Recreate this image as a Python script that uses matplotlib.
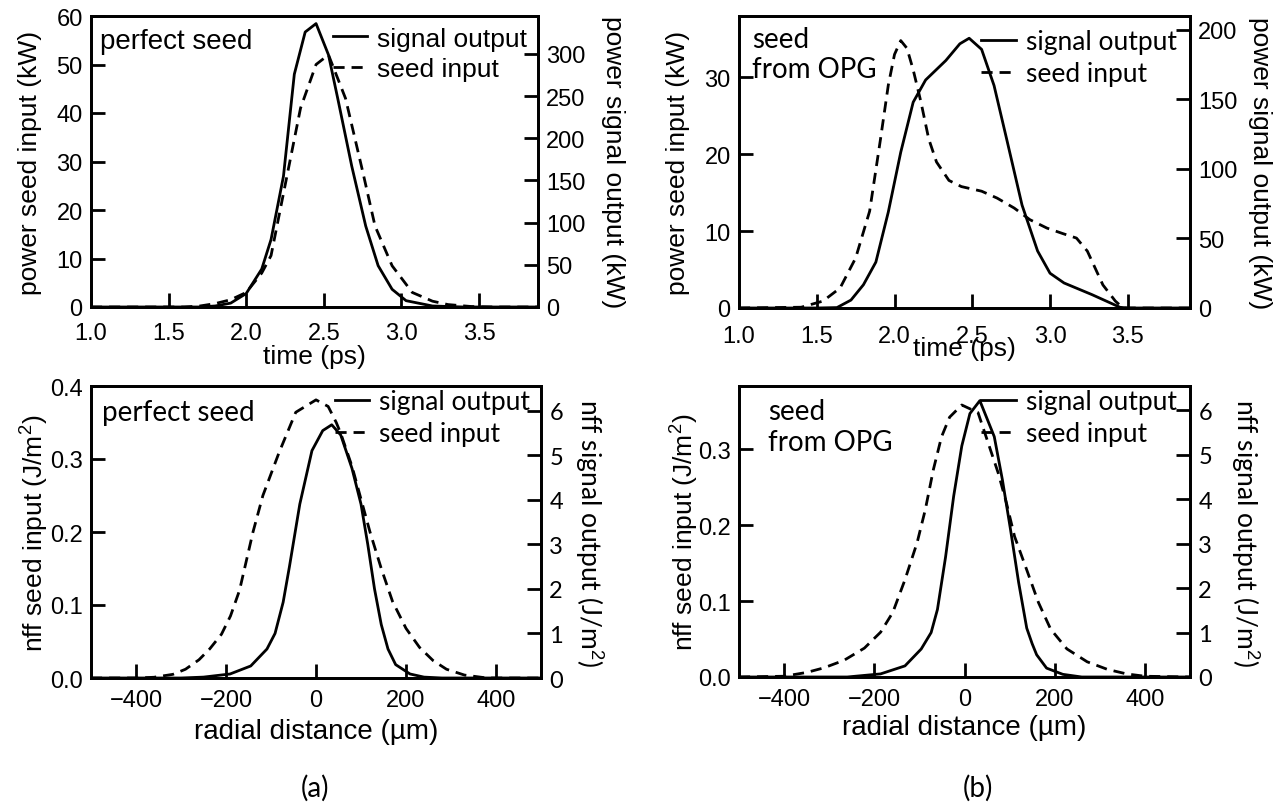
import numpy as np
import matplotlib
matplotlib.use('Agg')
from matplotlib import pyplot as plt
from matplotlib.lines import Line2D

plt.rcParams['font.family'] = ['Liberation Sans', 'DejaVu Sans']
plt.rcParams['mathtext.fontset'] = 'custom'
plt.rcParams['mathtext.rm'] = 'Liberation Sans'

# ---- panel (a) top: perfect seed, time domain ----
t_sig_a = [1.0, 1.7, 1.8, 1.9, 2.0, 2.1, 2.16, 2.24, 2.31, 2.38, 2.45, 2.53, 2.59, 2.68, 2.77, 2.85, 2.94, 3.03, 3.2, 3.4, 3.9]
p_sig_a = [0, 0, 1.2, 4.6, 16, 45, 80, 155, 276, 326, 336, 299, 247, 167, 96, 49, 21, 7.5, 1.2, 0, 0]   # kW, right axis
t_seed_a = [1.0, 1.6, 1.7, 1.8, 1.9, 2.0, 2.1, 2.16, 2.25, 2.35, 2.45, 2.53, 2.64, 2.75, 2.83, 2.94, 3.07, 3.2, 3.3, 3.45, 3.6, 3.9]
p_seed_a = [0, 0, 0.2, 0.7, 1.5, 3, 7, 10.6, 25, 41, 50, 52, 43, 28, 16.7, 8.5, 3, 1.2, 0.5, 0.1, 0, 0]  # kW, left axis

# ---- panel (b) top: seed from OPG, time domain ----
t_sig_b = [1.0, 1.5, 1.63, 1.72, 1.80, 1.88, 1.96, 2.04, 2.12, 2.2, 2.33, 2.42, 2.48, 2.56, 2.64, 2.72, 2.82, 2.92, 3.0, 3.09, 3.27, 3.45, 3.5, 3.9]
p_sig_b = [0, 0, 0.3, 5.7, 16.7, 33, 69, 112, 148, 164, 178, 190, 194, 186, 160, 122, 74, 41, 25, 18, 9.6, 0.5, 0, 0]
t_seed_b = [1.0, 1.4, 1.54, 1.65, 1.75, 1.84, 1.91, 1.96, 2.0, 2.04, 2.08, 2.12, 2.17, 2.22, 2.27, 2.35, 2.43, 2.56, 2.66, 2.77,
            2.87, 2.98, 3.08, 3.17, 3.24, 3.34, 3.42, 3.47, 3.9]
p_seed_b = [0, 0.1, 0.9, 2.6, 6.5, 12.6, 22, 29, 33, 34.8, 33.8, 31, 26.8, 22, 19, 16.6, 15.8, 15.2, 14.3, 13,
            11.5, 10.4, 9.7, 9.1, 7.4, 3, 0.9, 0, 0]

# ---- panel (a) bottom: perfect seed, radial ----
r_sig_a = [-500, -300, -250, -191, -145, -109, -91, -73, -59, -36, -9, 15, 35, 55, 80, 100, 115, 130, 145, 160, 177, 209, 240, 280, 500]
f_sig_a = [0, 0, 0.02, 0.09, 0.27, 0.65, 1.0, 1.7, 2.5, 3.9, 5.1, 5.55, 5.68, 5.45, 4.7, 3.9, 3.0, 2.0, 1.2, 0.65, 0.3, 0.09, 0.02, 0, 0]
r_seed_a = [-500, -400, -360, -318, -290, -260, -236, -210, -190, -170, -155, -140, -118, -82, -45, 0, 27, 45, 55, 80, 100, 120, 145, 170,
            200, 230, 260, 290, 330, 380, 500]
f_seed_a = [0, 0, 0.001, 0.005, 0.012, 0.025, 0.04, 0.06, 0.085, 0.12, 0.16, 0.2, 0.25, 0.309, 0.364, 0.381, 0.372, 0.35, 0.335, 0.29,
            0.245, 0.20, 0.15, 0.105, 0.068, 0.042, 0.024, 0.012, 0.004, 0, 0]

# ---- panel (b) bottom: seed from OPG, radial ----
r_sig_b = [-500, -260, -186, -132, -96, -74, -60, -42, -24, -6, 12, 34, 66, 84, 102, 120, 138, 150, 160, 182, 218, 260, 500]
f_sig_b = [0, 0, 0.07, 0.25, 0.63, 1.0, 1.52, 2.7, 4.07, 5.2, 5.93, 6.22, 5.41, 4.44, 3.32, 2.13, 1.1, 0.75, 0.5, 0.2, 0.06, 0, 0]
r_seed_b = [-500, -400, -350, -312, -267, -222, -186, -159, -132, -105, -87, -69, -51, -33, -6, 30, 75, 93, 111, 138, 164, 191, 227, 272, 317, 360, 400, 500]
f_seed_b = [0, 0.001, 0.006, 0.012, 0.022, 0.038, 0.059, 0.085, 0.128, 0.177, 0.22, 0.273, 0.316, 0.342, 0.358, 0.348, 0.268, 0.229, 0.185, 0.141, 0.098,
            0.063, 0.037, 0.02, 0.01, 0.004, 0.001, 0]

W, H = 1276, 803
fig = plt.figure(figsize=(W / 100, H / 100), dpi=100)


def px_axes(l, r, t, b):
    return fig.add_axes([l / W, 1 - b / H, (r - l) / W, (b - t) / H])


def style(ax, ax2, xpad):
    for a in (ax, ax2):
        for s in a.spines.values():
            s.set_linewidth(2)
    ax.tick_params(axis='both', direction='in', length=10, width=2, labelsize=17, pad=6)
    ax.tick_params(axis='x', pad=xpad)
    ax2.tick_params(axis='y', direction='in', length=10, width=2, labelsize=17, pad=6)


SOLID = dict(color='black', lw=2.0)
DASH = dict(color='black', lw=2.0, ls=(0, (4, 2.5)))


def add_legend(ax, anchor, fam, size):
    h = [Line2D([], [], **SOLID), Line2D([], [], **DASH)]
    ax.legend(h, ['signal output', 'seed input'], loc='upper right', bbox_to_anchor=anchor,
              frameon=False, handlelength=1.3, handletextpad=0.4, labelspacing=0.25,
              borderaxespad=0, prop={'family': fam, 'size': size})


def ylabels(ax, ax2, left, right, lx, rx, rfam='Liberation Sans'):
    ax.set_ylabel(left, fontsize=19, va='center', ha='center')
    ax.yaxis.set_label_coords(lx, 0.5)
    ax2.set_ylabel(right, fontsize=19, rotation=270, va='center', ha='center', family=rfam)
    ax2.yaxis.set_label_coords(rx, 0.5)


# top left
ax = px_axes(91, 538, 17, 308)
ax2 = ax.twinx()
ax.plot(t_seed_a, p_seed_a, **DASH)
ax2.plot(t_sig_a, p_sig_a, **SOLID)
ax.set_xlim(1.0, 3.88)
ax.set_ylim(0, 60)
ax2.set_ylim(0, 345)
ax.set_xticks([1.0, 1.5, 2.0, 2.5, 3.0, 3.5])
ax.set_xticklabels(['1.0', '1.5', '2.0', '2.5', '3.0', '3.5'])
ax.set_yticks([0, 10, 20, 30, 40, 50, 60])
ax2.set_yticks([0, 50, 100, 150, 200, 250, 300])
style(ax, ax2, 11)
ax.set_xlabel('time (ps)', fontsize=19, labelpad=0)
ylabels(ax, ax2, 'power seed input (kW)', 'power signal output (kW)', -0.136, 1.168)
ax.text(0.02, 0.914, 'perfect seed', transform=ax.transAxes, fontsize=20, va='center', ha='left')
add_legend(ax, (1.0, 1.0), 'Liberation Sans', 19)

# top right
ax = px_axes(739, 1190, 17, 309)
ax2 = ax.twinx()
ax.plot(t_seed_b, p_seed_b, **DASH)
ax2.plot(t_sig_b, p_sig_b, **SOLID)
ax.set_xlim(1.0, 3.9)
ax.set_ylim(0, 38)
ax2.set_ylim(0, 210)
ax.set_xticks([1.0, 1.5, 2.0, 2.5, 3.0, 3.5])
ax.set_xticklabels(['1.0', '1.5', '2.0', '2.5', '3.0', '3.5'])
ax.set_yticks([0, 10, 20, 30])
ax2.set_yticks([0, 50, 100, 150, 200])
style(ax, ax2, 12)
ax.set_xlabel('time (ps)', fontsize=19, labelpad=-8)
ylabels(ax, ax2, 'power seed input (kW)', 'power signal output (kW)', -0.135, 1.155)
ax.text(0.029, 0.87, 'seed\nfrom OPG', transform=ax.transAxes, fontsize=20, va='center', ha='left',
        family='Lato', linespacing=1.2)
add_legend(ax, (0.995, 0.99), 'Lato', 19)

# bottom left
ax = px_axes(91, 541, 387, 679)
ax2 = ax.twinx()
ax.plot(r_seed_a, f_seed_a, **DASH)
ax2.plot(r_sig_a, f_sig_a, **SOLID)
ax.set_xlim(-500, 500)
ax.set_ylim(0, 0.4)
ax2.set_ylim(0, 6.55)
ax.set_xticks([-400, -200, 0, 200, 400])
ax.set_yticks([0.0, 0.1, 0.2, 0.3, 0.4])
ax.set_yticklabels(['0.0', '0.1', '0.2', '0.3', '0.4'])
ax2.set_yticks([0, 1, 2, 3, 4, 5, 6])
style(ax, ax2, 8)
for lab in ax2.get_yticklabels():
    lab.set_family('Lato')
ax.set_xlabel('radial distance (µm)', fontsize=20, labelpad=5)
ylabels(ax, ax2, 'nff seed input (J/m$^2$)', 'nff signal output (J/m$^2$)', -0.127, 1.107, 'Lato')
ax.text(0.024, 0.911, 'perfect seed', transform=ax.transAxes, fontsize=20, va='center', ha='left', family='Lato')
add_legend(ax, (1.0, 1.025), 'Lato', 19)

# bottom right
ax = px_axes(739, 1190, 387, 678)
ax2 = ax.twinx()
ax.plot(r_seed_b, f_seed_b, **DASH)
ax2.plot(r_sig_b, f_sig_b, **SOLID)
ax.set_xlim(-500, 500)
ax.set_ylim(0, 0.383)
ax.set_xticks([-400, -200, 0, 200, 400])
ax.set_yticks([0.0, 0.1, 0.2, 0.3])
ax.set_yticklabels(['0.0', '0.1', '0.2', '0.3'])
ax2.set_ylim(0, 6.55)
ax2.set_yticks([0, 1, 2, 3, 4, 5, 6])
style(ax, ax2, 8)
for lab in ax2.get_yticklabels():
    lab.set_family('Lato')
ax.set_xlabel('radial distance (µm)', fontsize=20, labelpad=3)
ylabels(ax, ax2, 'nff seed input (J/m$^2$)', 'nff signal output (J/m$^2$)', -0.124, 1.122, 'Lato')
ax.text(0.064, 0.861, 'seed\nfrom OPG', transform=ax.transAxes, fontsize=20, va='center', ha='left',
        family='Lato', linespacing=1.2)
add_legend(ax, (0.995, 1.025), 'Lato', 19)

fig.text(315 / W, 1 - 788 / H, '(a)', fontsize=20, ha='center', va='center', family='Lato')
fig.text(978 / W, 1 - 788 / H, '(b)', fontsize=20, ha='center', va='center', family='Lato')

fig.savefig('out.png', dpi=100)
